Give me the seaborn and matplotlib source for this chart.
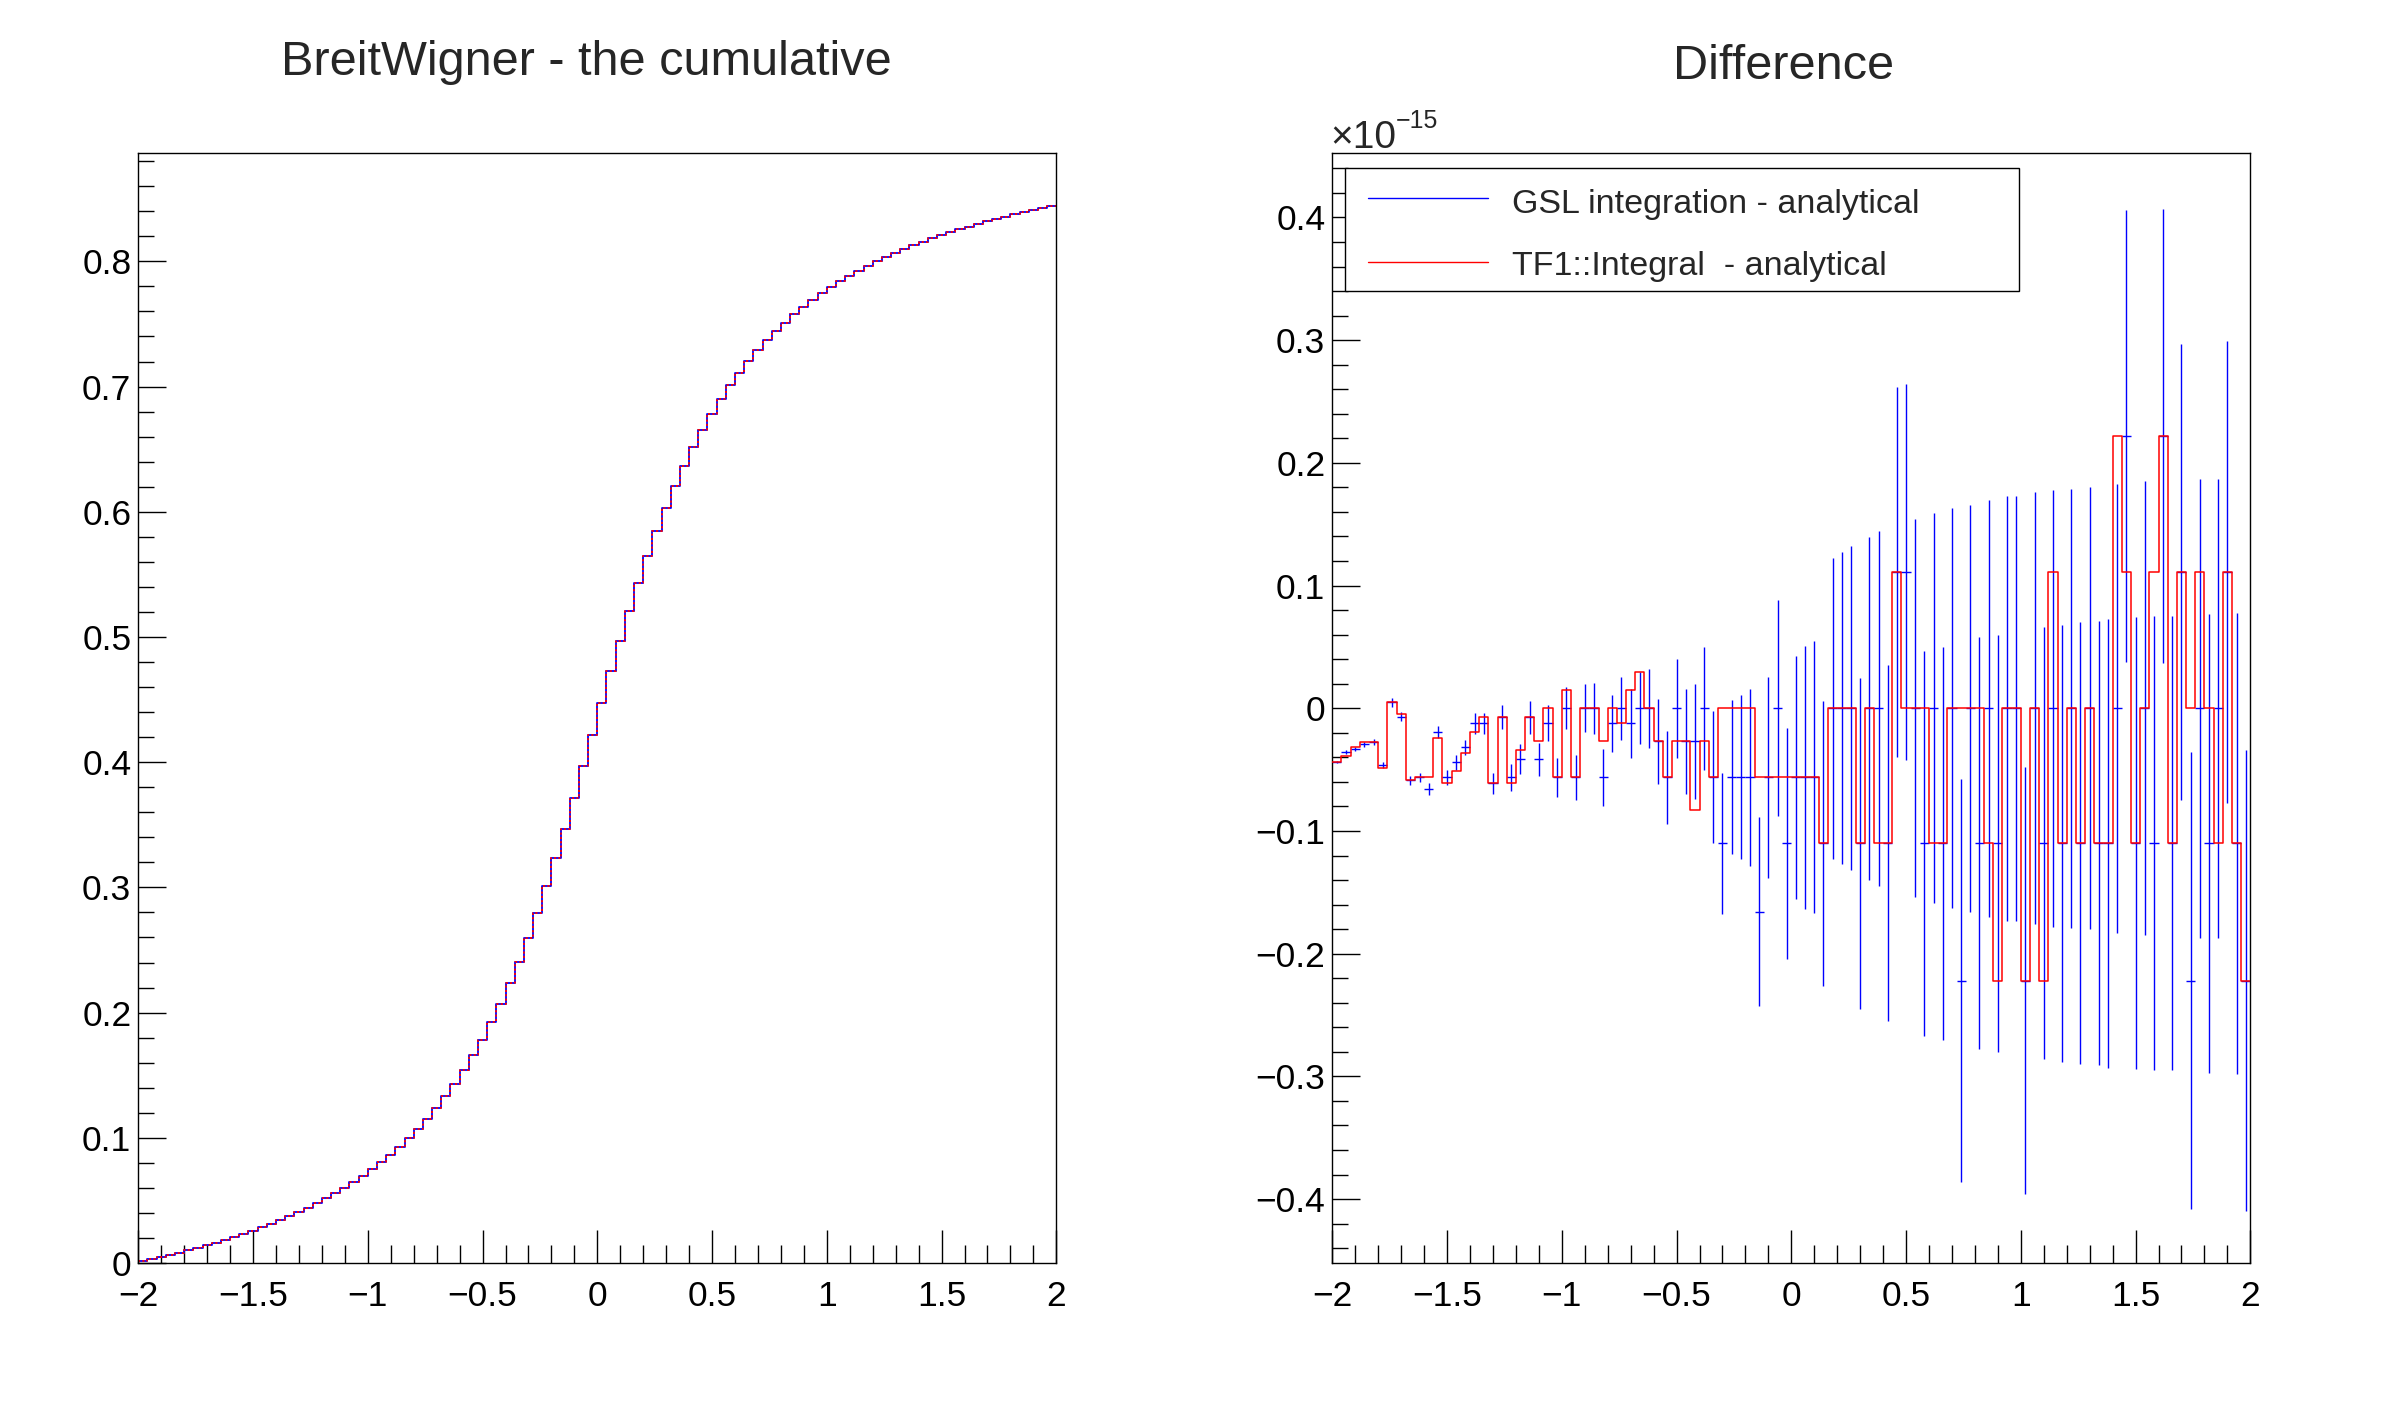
import numpy as np
import pandas as pd
import matplotlib
matplotlib.use("Agg")
import matplotlib.pyplot as plt
import seaborn as sns
from matplotlib.ticker import MultipleLocator, FuncFormatter
from matplotlib.lines import Line2D
from matplotlib.patches import Rectangle

# ---------------- data ----------------
x_min, x_max = -2.0, 2.0
n_bins = 100

# BreitWigner cumulative (left panel), one value per bin
cumulative = [
    0.0015, 0.0031, 0.0048, 0.0065, 0.0083, 0.0101, 0.0121, 0.0141, 0.0162, 0.0184,
    0.0208, 0.0232, 0.0257, 0.0284, 0.0312, 0.0342, 0.0373, 0.0406, 0.0440, 0.0477,
    0.0516, 0.0557, 0.0600, 0.0647, 0.0696, 0.0749, 0.0805, 0.0865, 0.0929, 0.0998,
    0.1072, 0.1152, 0.1238, 0.1331, 0.1432, 0.1540, 0.1658, 0.1785, 0.1923, 0.2072,
    0.2234, 0.2408, 0.2595, 0.2796, 0.3009, 0.3234, 0.3470, 0.3715, 0.3966, 0.4220,
    0.4474, 0.4725, 0.4970, 0.5206, 0.5431, 0.5645, 0.5845, 0.6032, 0.6207, 0.6368,
    0.6517, 0.6655, 0.6783, 0.6900, 0.7009, 0.7109, 0.7202, 0.7288, 0.7368, 0.7442,
    0.7511, 0.7576, 0.7636, 0.7692, 0.7744, 0.7794, 0.7840, 0.7884, 0.7925, 0.7964,
    0.8000, 0.8035, 0.8068, 0.8099, 0.8128, 0.8156, 0.8183, 0.8209, 0.8233, 0.8256,
    0.8278, 0.8299, 0.8320, 0.8339, 0.8358, 0.8376, 0.8393, 0.8409, 0.8425, 0.8440,
]

# Differences (right panel), in units of 1e-15
tf1_minus_analytical = [
    -0.0438, -0.0389, -0.0318, -0.0272, -0.0272, -0.0487, 0.0049, -0.0049, -0.0587, -0.0563,
    -0.0563, -0.0245, -0.0611, -0.0514, -0.0367, -0.0196, -0.0073, -0.0611, -0.0073, -0.0611,
    -0.0342, -0.0073, -0.0269, 0.0, -0.0563, 0.0147, -0.0563, 0.0, 0.0, -0.0269,
    0.0, -0.0122, 0.0147, 0.0293, 0.0, -0.0269, -0.0562, -0.0269, -0.0269, -0.0831,
    -0.0269, -0.0562, 0.0, 0.0, 0.0, 0.0, -0.0562, -0.0562, -0.0562, -0.0562,
    -0.0562, -0.0562, -0.0562, -0.110, 0.0, 0.0, 0.0, -0.110, 0.0, -0.110,
    -0.110, 0.111, 0.0, 0.0, 0.0, -0.110, -0.110, 0.0, 0.0, 0.0,
    0.0, -0.110, -0.222, 0.0, 0.0, -0.222, 0.0, -0.222, 0.111, -0.110,
    0.0, -0.110, 0.0, -0.110, -0.110, 0.222, 0.111, -0.110, 0.0, 0.111,
    0.222, -0.110, 0.111, 0.0, 0.111, 0.0, -0.110, 0.111, -0.110, -0.222,
]

gsl_minus_analytical = [
    -0.0438, -0.0354, -0.0329, -0.0293, -0.0272, -0.0462, 0.0049, -0.0068, -0.0587, -0.0563,
    -0.066, -0.0196, -0.0563, -0.044, -0.0318, -0.0122, -0.0122, -0.0611, -0.0073, -0.0563,
    -0.0416, -0.0073, -0.0416, -0.0122, -0.0563, 0.0, -0.0563, 0.0, 0.0, -0.0563,
    -0.0122, 0.0, -0.0122, 0.0, 0.0, -0.0269, -0.0562, 0.0, -0.0269, -0.0269,
    0.0, -0.0562, -0.110, -0.0562, -0.0562, -0.0562, -0.166, -0.0562, 0.0, -0.110,
    -0.0562, -0.0562, -0.0562, -0.110, 0.0, 0.0, 0.0, -0.110, 0.0, 0.0,
    -0.110, 0.111, 0.111, 0.0, -0.110, 0.0, -0.110, 0.0, -0.222, 0.0,
    -0.110, 0.0, -0.110, 0.0, 0.0, -0.222, 0.0, -0.110, 0.0, -0.110,
    0.0, -0.110, 0.0, -0.110, -0.110, 0.0, 0.222, -0.110, 0.0, -0.110,
    0.222, -0.110, 0.111, -0.222, 0.0, -0.110, 0.0, 0.111, -0.110, -0.222,
]

gsl_error = [
    0.0005, 0.0015, 0.0016, 0.0022, 0.0024, 0.0024, 0.0035, 0.0035, 0.0035, 0.0035,
    0.0049, 0.0049, 0.0060, 0.0060, 0.0060, 0.0084, 0.0084, 0.0084, 0.0098, 0.0110,
    0.0122, 0.0133, 0.0133, 0.0147, 0.0158, 0.0171, 0.0182, 0.0196, 0.0207, 0.0231,
    0.0231, 0.0255, 0.0280, 0.0293, 0.0320, 0.0345, 0.0380, 0.0405, 0.0430, 0.0470,
    0.0500, 0.0540, 0.0576, 0.0626, 0.0670, 0.0720, 0.0770, 0.0820, 0.0880, 0.0940,
    0.0990, 0.1070, 0.1110, 0.1160, 0.1225, 0.1270, 0.1320, 0.1350, 0.1396, 0.1445,
    0.1450, 0.1510, 0.1530, 0.1540, 0.1570, 0.1590, 0.1600, 0.1630, 0.1640, 0.1660,
    0.1680, 0.1700, 0.1700, 0.1730, 0.1730, 0.1740, 0.1760, 0.1760, 0.1780, 0.1780,
    0.1790, 0.1800, 0.1800, 0.1810, 0.1830, 0.1830, 0.1840, 0.1840, 0.1850, 0.1850,
    0.1850, 0.1850, 0.1860, 0.1860, 0.1870, 0.1870, 0.1870, 0.1880, 0.1880, 0.1880,
]

left_title = "BreitWigner - the cumulative"
right_title = "Difference"
legend_labels = ["GSL integration - analytical", "TF1::Integral  - analytical"]

# ---------------- style ----------------
sns.set_theme(style="white")
plt.rcParams["font.family"] = ["Liberation Sans", "DejaVu Sans"]
plt.rcParams["axes.edgecolor"] = "black"
plt.rcParams["axes.linewidth"] = 1.0
plt.rcParams["axes.unicode_minus"] = True

W, H = 2388, 1416
fig = plt.figure(figsize=(W / 100, H / 100), dpi=100)
fig.patch.set_facecolor("white")


def fx(px):
    return px / W


def fy(py):
    return 1 - py / H


ax_l = fig.add_axes([fx(138.3), fy(1263), 918 / W, 1109.7 / H])
ax_r = fig.add_axes([fx(1332.3), fy(1263), 918 / W, 1109.7 / H])

edges = np.linspace(x_min, x_max, n_bins + 1)
centers = 0.5 * (edges[:-1] + edges[1:])
half_w = 0.5 * (edges[1] - edges[0])

df = pd.DataFrame({
    "x": centers,
    "cumulative": cumulative,
    "tf1": tf1_minus_analytical,
    "gsl": gsl_minus_analytical,
    "gsl_err": gsl_error,
})

hist_kws = dict(data=df, x="x", bins=n_bins, binrange=(x_min, x_max),
                element="step", fill=False)

# left panel: two overlapping step histograms
sns.histplot(weights="cumulative", color="#0000ff", linewidth=1.3, ax=ax_l, **hist_kws)
sns.histplot(weights="cumulative", color="#ff0000", linewidth=1.3,
             linestyle=(0, (1.2, 1.2)), ax=ax_l, **hist_kws)

# right panel: GSL with error bars (blue) and TF1 as step histogram (red)
ax_r.errorbar(df["x"], df["gsl"], yerr=df["gsl_err"], xerr=half_w, fmt="none",
              ecolor="#0000ff", elinewidth=1.0, capsize=0, zorder=2)
sns.histplot(weights="tf1", color="#ff0000", linewidth=1.1, ax=ax_r, zorder=3, **hist_kws)


def fmt(v, pos):
    if abs(v) < 1e-9:
        return "0"
    return f"{v:g}".replace("-", "\u2212")


for ax in (ax_l, ax_r):
    ax.set_facecolor("white")
    ax.set_xlim(x_min, x_max)
    ax.set_xlabel("")
    ax.set_ylabel("")
    ax.xaxis.set_major_locator(MultipleLocator(0.5))
    ax.xaxis.set_minor_locator(MultipleLocator(0.1))
    ax.yaxis.set_major_locator(MultipleLocator(0.1))
    ax.yaxis.set_minor_locator(MultipleLocator(0.02))
    ax.xaxis.set_major_formatter(FuncFormatter(fmt))
    ax.yaxis.set_major_formatter(FuncFormatter(fmt))
    ax.tick_params(which="both", direction="in", top=False, right=False,
                   bottom=True, left=True, width=1.0, color="black",
                   labelcolor="black", labelsize=25.5)
    ax.tick_params(axis="x", which="major", length=23.8, pad=12)
    ax.tick_params(axis="x", which="minor", length=13)
    ax.tick_params(axis="y", which="major", length=20, pad=5)
    ax.tick_params(axis="y", which="minor", length=11.5)
    for s in ax.spines.values():
        s.set_visible(True)
        s.set_color("black")
        s.set_linewidth(1.0)

ax_l.set_ylim(0, 0.8863)
ax_r.set_ylim(-0.4521, 0.4523)

# titles
fig.text(fx(586), fy(75), left_title, ha="center", va="baseline", fontsize=35)
fig.text(fx(1784), fy(79), right_title, ha="center", va="baseline", fontsize=35)

# exponent label of right y axis
fig.text(fx(1330), fy(148), "\u00d710", ha="left", va="baseline", fontsize=28)
fig.text(fx(1396), fy(128), "\u221215", ha="left", va="baseline", fontsize=18)

# legend box
fig.add_artist(Rectangle((fx(1344.6), fy(291)), (2019.4 - 1344.6) / W, (291 - 168) / H,
                         transform=fig.transFigure, facecolor="white",
                         edgecolor="black", linewidth=1.0, zorder=5))
for (ly, tyb, col, lab) in [(198, 213, "#0000ff", legend_labels[0]),
                            (262, 275, "#ff0000", legend_labels[1])]:
    fig.add_artist(Line2D([fx(1368), fx(1488)], [fy(ly), fy(ly)], transform=fig.transFigure,
                          color=col, linewidth=1.0, zorder=6))
    fig.text(fx(1512), fy(tyb), lab, ha="left", va="baseline", fontsize=24.5, zorder=6)

fig.savefig("out.png", dpi=100, facecolor="white")
